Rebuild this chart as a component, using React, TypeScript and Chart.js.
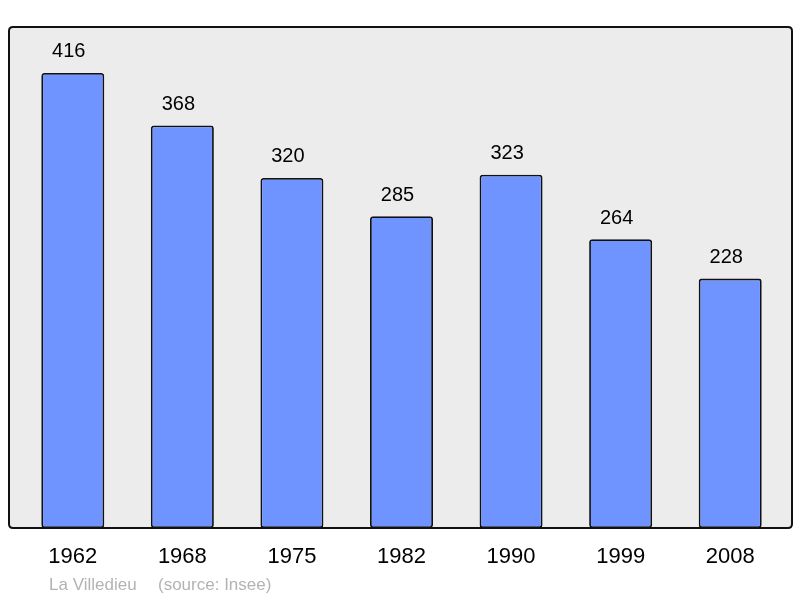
import React, { useEffect, useRef } from "react";
import { Chart, registerables } from "chart.js";

Chart.register(...registerables);

const years = ["1962", "1968", "1975", "1982", "1990", "1999", "2008"];
const population = [416, 368, 320, 285, 323, 264, 228];
const sourceName = "La Villedieu";
const sourceNote = "(source: Insee)";

const FONT = "'Liberation Sans', Arial, sans-serif";

const framePlugin = {
  id: "frame",
  beforeDraw(chart: any) {
    const ctx = chart.ctx;
    const x0 = 9, y0 = 27, x1 = 792, y1 = 528, r = 4;
    ctx.save();
    ctx.beginPath();
    ctx.moveTo(x0 + r, y0);
    ctx.lineTo(x1 - r, y0);
    ctx.quadraticCurveTo(x1, y0, x1, y0 + r);
    ctx.lineTo(x1, y1 - r);
    ctx.quadraticCurveTo(x1, y1, x1 - r, y1);
    ctx.lineTo(x0 + r, y1);
    ctx.quadraticCurveTo(x0, y1, x0, y1 - r);
    ctx.lineTo(x0, y0 + r);
    ctx.quadraticCurveTo(x0, y0, x0 + r, y0);
    ctx.closePath();
    ctx.fillStyle = "#ececec";
    ctx.fill();
    ctx.lineWidth = 2;
    ctx.strokeStyle = "#111";
    ctx.stroke();
    ctx.restore();
  },
  afterDatasetsDraw(chart: any) {
    const ctx = chart.ctx;
    const meta = chart.getDatasetMeta(0);
    ctx.save();
    ctx.font = `20px ${FONT}`;
    ctx.fillStyle = "#000";
    ctx.textAlign = "center";
    ctx.textBaseline = "middle";
    meta.data.forEach((bar: any, i: number) => {
      ctx.fillText(String(chart.data.datasets[0].data[i]), bar.x - 4, bar.y - 21);
    });
    ctx.font = `17px ${FONT}`;
    ctx.fillStyle = "#b3b3b3";
    ctx.textAlign = "left";
    ctx.fillText(sourceName, 49, 585);
    ctx.fillText(sourceNote, 158, 585);
    ctx.restore();
  },
};

export default function App() {
  const ref = useRef<HTMLCanvasElement>(null);
  useEffect(() => {
    const chart = new Chart(ref.current!, {
      type: "bar",
      data: {
        labels: years,
        datasets: [
          {
            data: population,
            backgroundColor: "#7094ff",
            borderColor: "#111",
            borderWidth: 1.8,
            borderSkipped: false,
            borderRadius: 3,
            barPercentage: 0.575,
            categoryPercentage: 1,
          },
        ],
      },
      options: {
        responsive: false,
        animation: false,
        layout: { padding: { left: 18, right: 15, top: 27, bottom: 0 } },
        plugins: { legend: { display: false }, tooltip: { enabled: false } },
        scales: {
          y: { display: false, min: 0, max: 458 },
          x: {
            grid: { display: false, drawTicks: false },
            border: { display: false },
            ticks: { color: "#000", font: { size: 22, family: FONT }, padding: 16 },
            afterFit: (scale: any) => {
              scale.height = 70;
            },
          },
        },
      },
      plugins: [framePlugin],
    });
    return () => chart.destroy();
  }, []);
  return (
    <div style={{ position: "absolute", left: 0, top: 0, width: 800, height: 598 }}>
      <canvas ref={ref} width={800} height={598} />
    </div>
  );
}
